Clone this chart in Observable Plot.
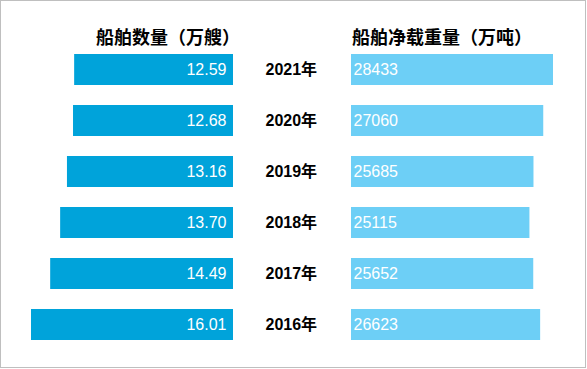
<!DOCTYPE html>
<html>
<head>
<meta charset="utf-8">
<script src="https://cdn.jsdelivr.net/npm/d3@7"></script>
<script src="https://cdn.jsdelivr.net/npm/@observablehq/plot@0.6"></script>
<style>
  html, body { margin: 0; padding: 0; background: #fff; }
  #chart { position: relative; width: 587px; height: 369px; overflow: hidden; background: #fff;
    font-family: "Liberation Sans", Arial, "Noto Sans CJK SC", sans-serif; }
  #chart svg { position: absolute; top: 0; left: 0; background: transparent; max-width: none; }
  .frame { position: absolute; left: 0; top: 0; width: 586px; height: 368px; box-sizing: border-box;
    border: 1px solid #BFBFBF; pointer-events: none; }
  .head { position: absolute; top: 28px; font-size: 18px; font-weight: bold; line-height: 20px; color: #000;
    font-family: "Liberation Sans", Arial, "Noto Sans CJK SC", sans-serif; white-space: nowrap; }
</style>
</head>
<body>
<div id="chart"></div>
<script>
const years = ["2021", "2020", "2019", "2018", "2017", "2016"];
const shipCount = [12.59, 12.68, 13.16, 13.70, 14.49, 16.01];
const netTonnage = [28433, 27060, 25685, 25115, 25652, 26623];
const leftTitle = "船舶数量（万艘）";
const rightTitle = "船舶净载重量（万吨）";

const data = years.map((y, i) => ({year: y, count: shipCount[i], tonnage: netTonnage[i]}));
const font = "'Liberation Sans', Arial, 'Noto Sans CJK SC', sans-serif";
const chart = document.getElementById("chart");

const left = Plot.plot({
  width: 350, height: 360,
  marginLeft: 31, marginRight: 117, marginTop: 34, marginBottom: 0,
  style: {background: "transparent", fontFamily: font, overflow: "visible"},
  x: {domain: [0, d3.max(shipCount)], reverse: true, axis: null},
  y: {domain: years, padding: 0.392},
  marks: [
    Plot.barX(data, {x: "count", y: "year", fill: "#00A3DA"}),
    Plot.text(data, {y: "year", frameAnchor: "right", text: d => d.count.toFixed(2),
      textAnchor: "end", dx: -7, fill: "white", fontSize: 16}),
    Plot.axisY({anchor: "right", tickSize: 0, tickPadding: 32, tickFormat: d => d + "年",
      fontSize: 16, fontWeight: "bold", fill: "#000", label: null})
  ]
});

const right = Plot.plot({
  width: 587, height: 360,
  marginLeft: 351, marginRight: 34, marginTop: 34, marginBottom: 0,
  style: {background: "transparent", fontFamily: font},
  x: {domain: [0, d3.max(netTonnage)], axis: null},
  y: {domain: years, padding: 0.392, axis: null},
  marks: [
    Plot.barX(data, {x: "tonnage", y: "year", fill: "#6DCFF6"}),
    Plot.text(data, {y: "year", frameAnchor: "left", text: d => String(d.tonnage),
      textAnchor: "start", dx: 2, fill: "white", fontSize: 16})
  ]
});

chart.appendChild(left);
chart.appendChild(right);

const h1 = document.createElement("div");
h1.className = "head";
h1.textContent = leftTitle;
chart.appendChild(h1);
const h2 = document.createElement("div");
h2.className = "head";
h2.textContent = rightTitle;
h2.style.left = "352px";
chart.appendChild(h2);
h1.style.left = (233 - h1.getBoundingClientRect().width + 7) + "px";

const fr = document.createElement("div");
fr.className = "frame";
chart.appendChild(fr);
</script>
</body>
</html>
